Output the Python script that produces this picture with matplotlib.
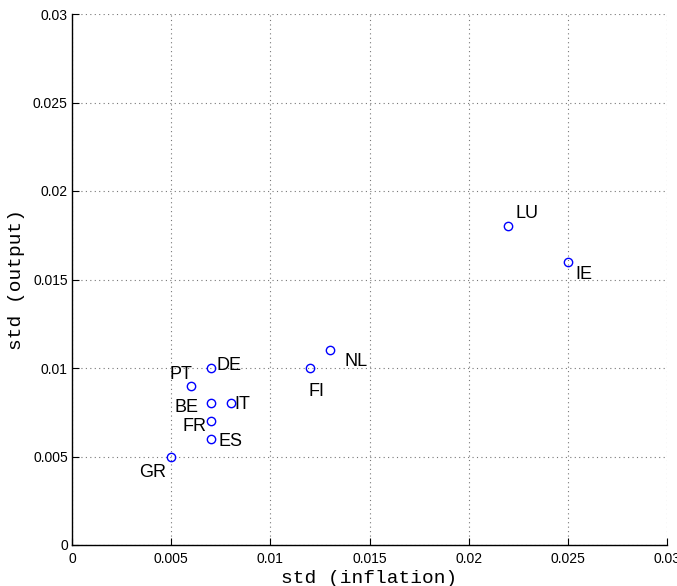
import matplotlib
matplotlib.use("Agg")
import matplotlib.pyplot as plt

countries = ["GR", "ES", "FR", "BE", "IT", "PT", "DE", "FI", "NL", "LU", "IE"]
std_inflation = [0.005, 0.007, 0.007, 0.007, 0.008, 0.006, 0.007, 0.012, 0.013, 0.022, 0.025]
std_output = [0.005, 0.006, 0.007, 0.008, 0.008, 0.009, 0.010, 0.010, 0.011, 0.018, 0.016]
# label offsets in pixels (dx, dy) relative to each point
label_offsets = [(-19, -16), (20, -3), (-16, -5), (-24, -4), (12, -1), (-10, 11),
                 (18, 3), (6, -24), (26, -11), (19, 13), (16, -13)]
ticks = [0, 0.005, 0.01, 0.015, 0.02, 0.025, 0.03]
tick_labels = ["0", "0.005", "0.01", "0.015", "0.02", "0.025", "0.03"]

fig = plt.figure(figsize=(6.77, 5.86), dpi=100)
ax = fig.add_axes([72/677, 1-545/586, (667-72)/677, (545-14)/586])

ax.plot(std_inflation, std_output, linestyle="none", marker="o", markersize=6,
        markerfacecolor="none", markeredgecolor="#0000ff", markeredgewidth=1.0, zorder=3)

for name, x, y, (dx, dy) in zip(countries, std_inflation, std_output, label_offsets):
    ax.annotate(name, (x, y), xytext=(dx, dy), textcoords="offset pixels",
                ha="center", va="center", fontsize=13, family="Liberation Sans")

ax.set_xlim(0, 0.03)
ax.set_ylim(0, 0.03)
ax.set_xticks(ticks)
ax.set_xticklabels(tick_labels, family="Liberation Sans", fontsize=10)
ax.set_yticks(ticks)
ax.set_yticklabels(tick_labels, family="Liberation Sans", fontsize=10)
ax.tick_params(direction="in", length=5, width=0.8)
ax.tick_params(axis="x", pad=5)
ax.tick_params(axis="y", pad=3)

ax.grid(True, linestyle=(0, (1, 3)), color="#777777", linewidth=0.8)
ax.set_axisbelow(True)
for s in ["top", "right"]:
    ax.spines[s].set_visible(False)
for s in ["left", "bottom"]:
    ax.spines[s].set_linewidth(1.0)

ax.set_xlabel("std (inflation)", family="Liberation Mono", fontsize=14, labelpad=3)
ax.set_ylabel("std (output)", family="Liberation Mono", fontsize=14, labelpad=6)

fig.savefig("out.png", dpi=100)
